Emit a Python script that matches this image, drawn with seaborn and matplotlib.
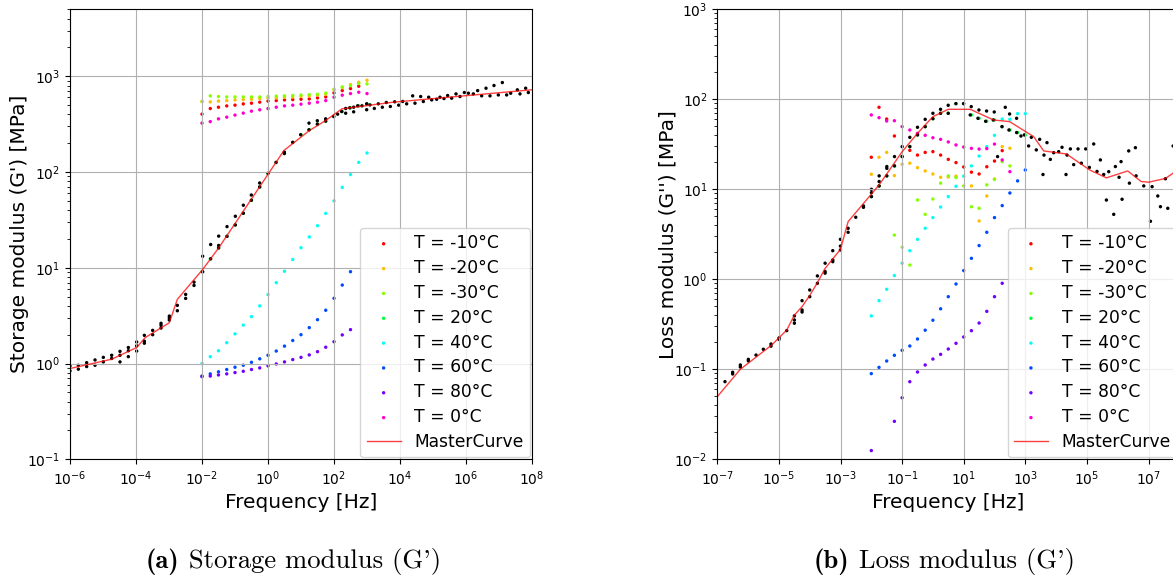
import numpy as np
import matplotlib
matplotlib.use("Agg")
import matplotlib.pyplot as plt
from matplotlib.ticker import NullLocator
import seaborn as sns

# ---------------- data ----------------
freq = [0.01, 0.0178, 0.0316, 0.0562, 0.1, 0.178, 0.316, 0.562, 1.0, 1.78, 3.16,
        5.62, 10.0, 17.8, 31.6, 56.2, 100.0, 178.0, 316.0, 562.0, 1000.0]
temp_labels = ['T = -10°C', 'T = -20°C', 'T = -30°C', 'T = 20°C',
               'T = 40°C', 'T = 60°C', 'T = 80°C', 'T = 0°C']
nan = np.nan

# storage modulus G' [MPa] per temperature
gp_m10 = [402, 460, 475, 490, 499, 514, 523, 536, 550, 557, 566, 570, 575, 580, 594, 608, 670, 708, 743, 786, nan]
gp_m20 = [545, 540, 550, 557, 566, 570, 575, 585, 590, 594, 604, 608, 617, 624, 638, 649, 720, 760, 818, 865, 908]
gp_m30 = [545, 624, 614, 608, 608, 608, 608, 608, 614, 620, 624, 630, 636, 642, 649, 666, 731, 774, 798, 838, 832]
gp_p20 = [9.08, 12.4, 16.1, 21.3, 28.0, 37.1, 50.7, 69.8, 96.8, 126, 156, 204, 245, 276, 316, 340, 380, 428, 468, 491, 515]
gp_p40 = [1.0, 1.18, 1.36, 1.65, 2.04, 2.52, 3.09, 4.0, 5.25, 7.0, 9.2, 12.2, 16.2, 21.0, 27.5, 37, 50, 69, 94, 126, 158]
gp_p60 = [0.74, 0.78, 0.82, 0.866, 0.915, 0.96, 1.03, 1.12, 1.22, 1.35, 1.52, 1.74, 2.0, 2.37, 2.87, 3.6, 4.8, 6.6, 9.1, nan, nan]
gp_p80 = [0.73, 0.74, 0.76, 0.78, 0.805, 0.83, 0.866, 0.90, 0.945, 0.99, 1.04, 1.10, 1.16, 1.23, 1.33, 1.48, 1.69, 1.99, 2.26, nan, nan]
gp_p0 = [324, 336, 359, 374, 393, 412, 432, 446, 460, 475, 490, 499, 511, 523, 536, 557, 604, 634, 659, 681, 659]

# loss modulus G'' [MPa] per temperature
gpp_m10 = [22.7, 81.5, 60.4, 39.1, nan, 27.1, 24.0, 25.7, 26.2, 24.0, 21.5, 19.8, 17.7, 15.5, 14.8, 17.8, 20.6, 26.9, nan, nan, nan]
gpp_m20 = [14.7, 22.7, 25.7, 14.2, 19.0, 19.5, 17.4, 16.0, 14.8, 13.6, 13.7, 14.0, nan, 10.9, 4.45, 8.43, 13.0, 29.8, 28.6, nan, nan]
gpp_m30 = [nan, nan, nan, 3.1, 2.27, 1.44, 7.6, 5.27, 7.8, 11.7, 14.1, 13.5, 10.9, 6.4, 6.15, 11.2, 12.9, 20.3, 18.2, nan, nan]
gpp_p20 = [8.3, 10.9, 14.1, 18.2, 23.1, 29.8, 40.2, 49.7, 60.9, 69.9, 69.9, 89.5, 89.5, 67.0, 61.5, 57.0, 58.9, 49.7, 45.6, 42.7, 40.2]
gpp_p40 = [0.392, 0.579, 0.775, 1.1, 1.51, 2.08, 2.78, 3.69, 4.85, 6.35, 8.3, 10.8, 14.0, 18.2, 23.4, 29.8, 39.8, 60.4, 60.0, 69.3, 69.3]
gpp_p60 = [0.0895, 0.105, 0.1236, 0.143, 0.1625, 0.1815, 0.217, 0.272, 0.351, 0.47, 0.641, 0.887, 1.25, 1.71, 2.37, 3.33, 4.85, 6.59, 9.1, 12.4, 16.4]
gpp_p80 = [0.0125, nan, nan, 0.0264, 0.0483, 0.0728, 0.0933, 0.1117, 0.13, 0.1466, 0.168, 0.1945, 0.2286, 0.2685, 0.3266, 0.4406, 0.641, 0.903, nan, nan, nan]
gpp_p0 = [67, 62.5, 57.4, 57.8, 49.7, 45.6, 41.9, 39.8, 37.4, 35.9, 33.6, 31.1, 29.5, 28.5, 28.0, 28.3, 31.8, 21.2, 15.7, nan, nan]

# shifted data (black dots): log10 of frequency, modulus
gp_black_log10f = [-6.0, -6.0, -5.747, -5.747, -5.495, -5.495, -5.242, -5.242, -4.99, -4.99, -4.737, -4.737,
                   -4.485, -4.485, -4.485, -4.232, -4.232, -4.232, -3.98, -3.98, -3.98, -3.747, -3.747, -3.747,
                   -3.495, -3.495, -3.242, -3.242, -3.242, -2.99, -2.99, -2.99, -2.747, -2.747, -2.495, -2.495,
                   -2.242, -2.242, -1.98, -1.98, -1.737, -1.737, -1.495, -1.495, -1.495, -1.242, -1.242, -0.99,
                   -0.99, -0.747, -0.747, -0.505, -0.505, -0.253, -0.253, 0.0, 0.243, 0.495, 0.495, 0.748, 0.99,
                   1.242, 1.242, 1.495, 1.495, 1.747, 1.747, 1.99, 2.11, 2.232, 2.354, 2.354, 2.475, 2.596, 2.596,
                   2.717, 2.848, 2.99, 2.99, 3.09, 3.222, 3.343, 3.465, 3.586, 3.707, 3.838, 3.96, 4.081, 4.202,
                   4.384, 4.454, 4.626, 4.707, 4.869, 4.96, 5.111, 5.212, 5.333, 5.444, 5.566, 5.697, 5.818, 5.95,
                   6.071, 6.222, 6.353, 6.475, 6.606, 6.727, 6.848, 6.98, 7.101, 7.232, 7.354, 7.556, 7.636,
                   7.808, 7.889]
gp_black = [0.944, 0.838, 0.959, 0.873, 1.02, 0.93, 1.09, 0.959, 1.16, 1.04, 1.22, 1.13,
            1.34, 1.22, 1.04, 1.47, 1.36, 1.18, 1.68, 1.53, 1.35, 1.97, 1.71, 1.63,
            2.22, 2.0, 2.63, 2.51, 2.35, 3.13, 2.99, 2.85, 4.05, 3.56, 5.27, 4.79,
            7.08, 6.54, 13.2, 9.08, 17.5, 12.4, 21.4, 17.1, 16.1, 26.9, 21.3, 34.5,
            28.0, 45.0, 37.1, 57.5, 50.7, 76.8, 69.8, 96.8, 126, 161, 156, 204, 245,
            324, 276, 343, 316, 359, 340, 380, 402, 428, 461, 411, 468, 475, 425,
            491, 491, 515, 447, 502, 461, 515, 475, 532, 483, 541, 499, 545, 515,
            624, 523, 614, 545, 604, 566, 575, 604, 585, 629, 590, 654, 614, 676,
            665, 654, 708, 624, 750, 624, 800, 638, 859, 638, 665, 721, 654,
            750, 676]

gpp_black_log10f = [-6.751, -6.502, -6.502, -6.252, -6.252, -5.992, -5.992, -5.743, -5.505, -5.256, -5.256,
                    -4.996, -4.996, -4.746, -4.497, -4.497, -4.497, -4.248, -4.248, -4.248, -3.999, -3.999,
                    -3.75, -3.75, -3.5, -3.5, -3.5, -3.251, -3.251, -3.251, -3.002, -3.002, -3.002, -2.753,
                    -2.753, -2.504, -2.255, -2.255, -1.995, -1.995, -1.995, -1.745, -1.745, -1.745, -1.496,
                    -1.496, -1.496, -1.247, -1.247, -0.998, -0.998, -0.749, -0.749, -0.5, -0.5, -0.25, -0.25,
                    0.0, 0.0, 0.248, 0.248, 0.497, 0.497, 0.746, 0.996, 1.245, 1.212, 1.494, 1.462, 1.743,
                    1.711, 1.992, 1.96, 2.10, 2.242, 2.35, 2.49, 2.469, 2.718, 2.718, 2.859, 2.968, 3.108,
                    3.195, 3.357, 3.466, 3.574, 3.607, 3.704, 3.813, 3.921, 4.083, 4.192, 4.322, 4.354,
                    4.463, 4.571, 4.712, 4.82, 4.961, 5.08, 5.221, 5.329, 5.438, 5.546, 5.633, 5.709, 5.871,
                    5.925, 6.044, 6.109, 6.142, 6.358, 6.38, 6.575, 6.597, 6.846, 7.063, 7.117, 7.301, 7.388,
                    7.55, 7.626, 7.8]
gpp_black = [0.0729, 0.0927, 0.0888, 0.1117, 0.106, 0.129, 0.124, 0.144, 0.167, 0.191, 0.181,
             0.223, 0.215, 0.269, 0.392, 0.353, 0.325, 0.579, 0.456, 0.433, 0.761, 0.641,
             1.09, 0.903, 1.51, 1.22, 1.17, 2.08, 1.64, 1.57, 2.78, 2.34, 2.12, 3.69,
             3.33, 4.89, 6.53, 6.31, 10.0, 9.18, 8.3, 14.1, 12.2, 10.9, 17.9,
             17.1, 14.1, 23.1, 18.2, 29.8, 23.1, 37.8, 29.8, 48.9, 40.2, 59.9, 49.7,
             69.9, 60.9, 77.4, 69.9, 85.8, 69.9, 89.5, 89.5, 82.9, 67.0, 76.1, 61.5, 74.1,
             57.0, 72.3, 58.9, 23.1, 49.7, 81.5, 68.7, 45.6, 61.5, 42.7, 39.1, 40.2, 30.3,
             37.8, 27.4, 35.9, 14.6, 24.0, 33.0, 21.5, 25.5, 26.2, 29.3, 14.6, 24.0,
             28.1, 18.8, 28.1, 19.5, 28.1, 17.5, 31.9, 15.8, 21.2, 14.6, 7.6, 15.7, 5.27,
             17.9, 13.6, 20.3, 7.75, 26.7, 11.7, 29.0, 14.1, 10.9, 4.41, 10.7, 8.43, 6.41,
             13.1, 6.15, 30.3]

# master curves: log10 of frequency, modulus
mc_gp_log10f = [-6.0, -4.737, -3.98, -3.727, -2.99, -2.747, -1.98, -1.495, 0.485, 1.242, 1.747, 2.242, 3.798, 8.0]
mc_gp = [0.887, 1.11, 1.47, 1.86, 2.67, 4.68, 9.6, 16.1, 168, 269, 345, 457, 536, 722]
mc_gpp_log10f = [-7.0, -6.252, -5.234, -4.746, -4.497, -4.248, -3.988, -3.75, -3.5, -3.002, -2.753, -1.745,
                 -0.998, -0.5, -0.001, 0.497, 1.212, 1.971, 2.49, 3.271, 3.596, 4.333, 5.091, 5.633, 6.326,
                 6.76, 7.009, 7.55, 7.82]
mc_gpp = [0.0497, 0.1, 0.186, 0.273, 0.40, 0.497, 0.67, 0.918, 1.32, 2.15, 4.37, 11.2,
          26.2, 41.9, 64.1, 77.4, 77.4, 58.9, 56.5, 38.5, 26.7, 24.7, 16.4, 13.4, 16.0,
          12.2, 12.0, 13.2, 15.3]

gp_series = [gp_m10, gp_m20, gp_m30, gp_p20, gp_p40, gp_p60, gp_p80, gp_p0]
gpp_series = [gpp_m10, gpp_m20, gpp_m30, gpp_p20, gpp_p40, gpp_p60, gpp_p80, gpp_p0]

# ---------------- style ----------------
cmap = matplotlib.colormaps['hsv']
colors = [cmap(i / 8) for i in range(8)]
plt.rcParams['font.family'] = ['DejaVu Sans']

fig = plt.figure(figsize=(11.73, 5.85), dpi=100)
W, H = 1173.0, 585.0
ax1 = fig.add_axes([70 / W, (H - 459.3) / H, 462 / W, 450 / H])
ax2 = fig.add_axes([717.3 / W, (H - 459.3) / H, 462 / W, 450 / H])

MS = 6


def draw(ax, series, bx, by, mx, my, ylabel, ylim, xlim, xticks, ylab_x):
    ax.set_xscale('log')
    ax.set_yscale('log')
    handles = []
    for vals, col, lab in zip(series, colors, temp_labels):
        d = {'f': freq, 'v': vals}
        sns.scatterplot(data=d, x='f', y='v', ax=ax, color=col, s=MS, linewidth=0,
                        edgecolor='none', label=lab, legend=False)
        handles.append(ax.collections[-1])
    sns.scatterplot(x=10 ** np.array(bx), y=by, ax=ax, color='black', s=MS,
                    linewidth=0, edgecolor='none', legend=False)
    sns.lineplot(x=10 ** np.array(mx), y=my, ax=ax, color='red', linewidth=1.0,
                 alpha=0.75, sort=False, estimator=None, label='MasterCurve', legend=False)
    handles.append(ax.lines[-1])
    ax.set_xlim(*xlim)
    ax.set_ylim(*ylim)
    ax.set_xticks(xticks)
    ax.xaxis.set_minor_locator(NullLocator())
    ax.grid(True, which='major', color='#b0b0b0', linewidth=0.8)
    ax.tick_params(labelsize=10)
    ax.set_xlabel('Frequency [Hz]', fontsize=14.5)
    ax.set_ylabel(ylabel, fontsize=14.5)
    ax.yaxis.set_label_coords(ylab_x, 0.5)
    for s in ax.spines.values():
        s.set_color('black')
        s.set_linewidth(0.8)
    ax.legend(handles, temp_labels + ['MasterCurve'], loc='lower right', fontsize=12.3,
              borderaxespad=0.12, labelspacing=0.4, borderpad=0.37)


draw(ax1, gp_series, gp_black_log10f, gp_black, mc_gp_log10f, mc_gp,
     "Storage modulus (G') [MPa]", (0.1, 5000), (1e-6, 1e8),
     [1e-6, 1e-4, 1e-2, 1e0, 1e2, 1e4, 1e6, 1e8], (29 - 70) / 462)
draw(ax2, gpp_series, gpp_black_log10f, gpp_black, mc_gpp_log10f, mc_gpp,
     "Loss modulus (G'') [MPa]", (0.01, 1000), (1e-7, 1e8),
     [1e-7, 1e-5, 1e-3, 1e-1, 1e1, 1e3, 1e5, 1e7], (677 - 717.3) / 462)

# captions (bold label + roman text, Computer Modern)
fig.canvas.draw()
renderer = fig.canvas.get_renderer()
base_y = 1 - 568 / H
for x0, tag, rest in [(146, "(a)", " Storage modulus (G')"), (814, "(b)", " Loss modulus (G')")]:
    t1 = fig.text(x0 / W, base_y, tag, family='cmb10', fontsize=19.2, ha='left', va='baseline')
    bb = t1.get_window_extent(renderer=renderer)
    fig.text(bb.x1 / W, base_y, rest, family='cmr10', fontsize=19.2, ha='left', va='baseline')

fig.savefig('out.png', dpi=100)
